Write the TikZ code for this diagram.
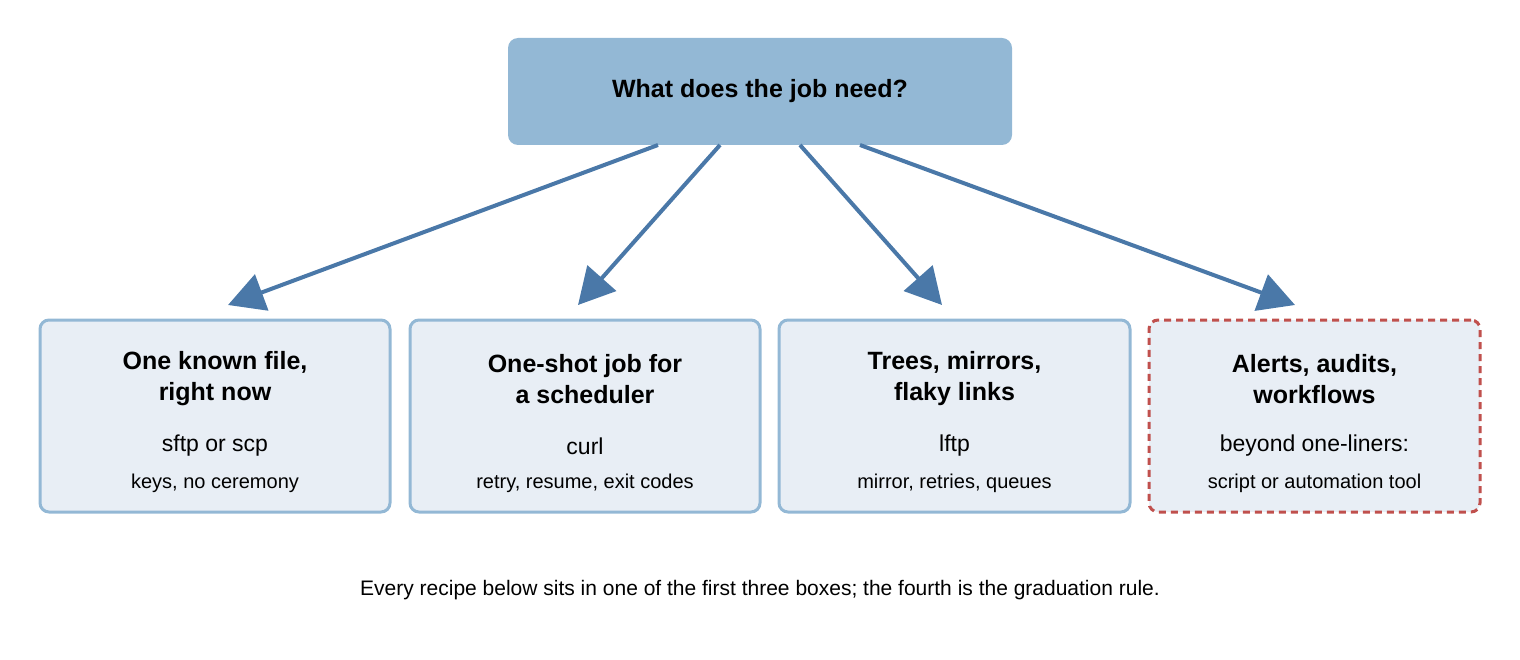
\documentclass[tikz,border=0pt]{standalone}
\usepackage{fontspec}
\setmainfont{Liberation Sans}
\usetikzlibrary{arrows.meta}
\definecolor{topf}{HTML}{93B8D5}
\definecolor{boxf}{HTML}{E8EEF5}
\definecolor{boxd}{HTML}{93B8D5}
\definecolor{arr}{HTML}{4A78A8}
\definecolor{red}{HTML}{C0504D}
\begin{document}
\begin{tikzpicture}[x=1pt,y=-1pt,
  box/.style={draw=boxd,fill=boxf,line width=3pt,rounded corners=9pt},
  ar/.style={draw=arr,line width=4pt,-{Triangle[length=36pt,width=38pt]}},
  tt/.style={font=\fontsize{25}{31}\selectfont\bfseries,align=center},
  t1/.style={font=\fontsize{23}{27}\selectfont},
  t2/.style={font=\fontsize{20}{24}\selectfont}]
\useasboundingbox (0,0) rectangle (1520,660);
\node[fill=topf,rounded corners=10pt,minimum width=504pt,minimum height=107pt,tt] (top) at (760,91.5) {What does the job need?};
\foreach \n/\x/\w/\a/\b/\c in {
 b1/215/350/{One known file,\\right now}/{sftp or scp}/{keys, no ceremony},
 b2/585/350/{One-shot job for\\a scheduler}/{curl}/{retry, resume, exit codes},
 b3/954.5/351/{Trees, mirrors,\\flaky links}/{lftp}/{mirror, retries, queues}}{
 \node[box,minimum width=\w pt,minimum height=192pt] (\n) at (\x,416) {};
 \node[tt] (\n t) at (\x,379) {\a};
 \node[t1] (\n a) at (\x,446) {\b};
 \node[t2] (\n b) at (\x,483) {\c};
}
\node[box,draw=red,dashed,dash pattern=on 7pt off 5pt,minimum width=331pt,minimum height=192pt] (b4) at (1314.5,416) {};
\node[tt] (b4t) at (1314.5,379) {Alerts, audits,\\workflows};
\node[t1] (b4a) at (1314.5,446) {beyond one-liners:};
\node[t2] (b4b) at (1314.5,483) {script or automation tool};
\coordinate (s1) at (658,145); \coordinate (e1) at (228,305);
\coordinate (s2) at (720,145); \coordinate (e2) at (578,305);
\coordinate (s3) at (800,145); \coordinate (e3) at (942,305);
\coordinate (s4) at (860,145); \coordinate (e4) at (1295,305);
\foreach \i in {1,...,4}{\draw[ar] (s\i) -- (e\i);}
\node[font=\fontsize{21}{25}\selectfont] (cap) at (760,590) {Every recipe below sits in one of the first three boxes; the fourth is the graduation rule.};
\end{tikzpicture}
\end{document}
